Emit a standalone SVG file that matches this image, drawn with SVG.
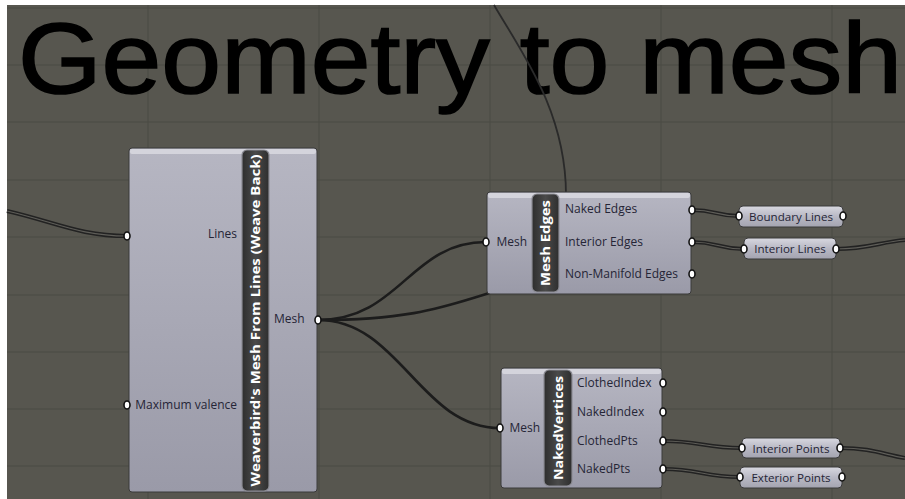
<svg xmlns="http://www.w3.org/2000/svg" width="905" height="499" viewBox="0 0 905 499">
<defs>
<linearGradient id="nodeG" x1="0" y1="0" x2="0" y2="1">
<stop offset="0" stop-color="#b6b6c2"/>
<stop offset="1" stop-color="#9a9aa8"/>
</linearGradient>
<linearGradient id="paramG" x1="0" y1="0" x2="0" y2="1">
<stop offset="0" stop-color="#d8d8e0"/>
<stop offset="0.5" stop-color="#b8b8c4"/>
<stop offset="1" stop-color="#a4a4b0"/>
</linearGradient>
<linearGradient id="barG" x1="0" y1="0" x2="1" y2="0">
<stop offset="0" stop-color="#2e2e2e"/>
<stop offset="0.5" stop-color="#4a4a4a"/>
<stop offset="1" stop-color="#2e2e2e"/>
</linearGradient>
<style>
.grid{stroke:#4b4a45;stroke-width:1}
.title{font-family:"Liberation Sans",Arial,sans-serif;font-size:100px;fill:#000;stroke:#000;stroke-width:1.6}
.node{fill:url(#nodeG);stroke:#3a3a3a;stroke-width:1}
.hl{fill:#d4d4dc}
.bar{fill:url(#barG);stroke:#8c8c94;stroke-width:1.2}
.bt{font-family:"Open Sans","DejaVu Sans",sans-serif;font-weight:bold;font-size:13px;fill:#fff;text-anchor:middle}
.t{font-family:"Open Sans","DejaVu Sans",sans-serif;font-size:12px;fill:#252536}
.p{font-size:11.6px}
.r{text-anchor:end}
.m{text-anchor:middle}
.param{fill:url(#paramG);stroke:#3a3a3a;stroke-width:1}
.port{fill:#fff;stroke:#111;stroke-width:1.6}
.w1{fill:none;stroke:#1c1c1c;stroke-width:2.6}
.w0{fill:none;stroke:#2a2a2a;stroke-width:1.8}
.wo{fill:none;stroke:#222;stroke-width:4.2}
.wi{fill:none;stroke:#5e5d58;stroke-width:1.2}
</style>
</defs>
<rect x="0" y="0" width="905" height="499" fill="#57564f"/>
<g id="grid">
<line class="grid" x1="0" y1="8" x2="905" y2="8"/>
<line class="grid" x1="0" y1="65" x2="905" y2="65"/>
<line class="grid" x1="0" y1="122" x2="905" y2="122"/>
<line class="grid" x1="0" y1="180" x2="905" y2="180"/>
<line class="grid" x1="0" y1="237" x2="905" y2="237"/>
<line class="grid" x1="0" y1="295" x2="905" y2="295"/>
<line class="grid" x1="0" y1="352" x2="905" y2="352"/>
<line class="grid" x1="0" y1="409" x2="905" y2="409"/>
<line class="grid" x1="0" y1="466" x2="905" y2="466"/>
<line class="grid" x1="148" y1="0" x2="148" y2="499"/>
<line class="grid" x1="319" y1="0" x2="319" y2="499"/>
<line class="grid" x1="490" y1="0" x2="490" y2="499"/>
<line class="grid" x1="661" y1="0" x2="661" y2="499"/>
<line class="grid" x1="832" y1="0" x2="832" y2="499"/>
</g>
<rect x="0" y="0" width="905" height="5" fill="#fff"/>
<rect x="0" y="0" width="7" height="499" fill="#fff"/>
<text id="title" class="title" x="18" y="93" textLength="884" lengthAdjust="spacingAndGlyphs">Geometry to mesh</text>
<g id="connectors">
<path class="w0" d="M494 5 C520 50,566 110,566 195"/>
<path class="wo" d="M7 211 C55 222,80 236,127 236"/>
<path class="wi" d="M7 211 C55 222,80 236,127 236"/>
<path class="w1" d="M318 320 C400 320,410 242,486 242"/>
<path class="w1" d="M318 320 C420 320,450 304,500 290"/>
<path class="w1" d="M318 320 C400 320,420 428,500 428"/>
<path class="wo" d="M692 210 C716 210,716 216,739 216"/>
<path class="wi" d="M692 210 C716 210,716 216,739 216"/>
<path class="wo" d="M692 242 C718 242,718 249,744 249"/>
<path class="wi" d="M692 242 C718 242,718 249,744 249"/>
<path class="wo" d="M836 249 C868 249,880 242,905 240"/>
<path class="wi" d="M836 249 C868 249,880 242,905 240"/>
<path class="wo" d="M663 441 C700 441,705 448,742 448"/>
<path class="wi" d="M663 441 C700 441,705 448,742 448"/>
<path class="wo" d="M663 469 C700 469,703 477,740 477"/>
<path class="wi" d="M663 469 C700 469,703 477,740 477"/>
<path class="wo" d="M840 448 C872 448,885 455,905 458"/>
<path class="wi" d="M840 448 C872 448,885 455,905 458"/>
</g>
<g id="weaverbird">
<rect class="node" x="129" y="148" width="188" height="344" rx="3"/>
<rect class="hl" x="130" y="149" width="186" height="5" rx="2"/>
<rect class="bar" x="242" y="150" width="27" height="341" rx="5"/>
<text class="bt" transform="translate(260,320.5) rotate(-90)" textLength="332" lengthAdjust="spacingAndGlyphs">Weaverbird's Mesh From Lines (Weave Back)</text>
<text class="t r" x="237" y="238">Lines</text>
<text class="t r" x="237" y="409">Maximum valence</text>
<text class="t" x="274" y="323">Mesh</text>
<ellipse class="port" cx="127" cy="236" rx="3" ry="4"/>
<ellipse class="port" cx="127" cy="405" rx="3" ry="4"/>
<ellipse class="port" cx="318" cy="320" rx="3" ry="4"/>
</g>
<g id="meshedges">
<rect class="node" x="487" y="192" width="204" height="102" rx="3"/>
<rect class="hl" x="488" y="193" width="202" height="5" rx="2"/>
<rect class="bar" x="532" y="194" width="27" height="98" rx="5"/>
<text class="bt" transform="translate(550,243) rotate(-90)" textLength="86" lengthAdjust="spacingAndGlyphs">Mesh Edges</text>
<text class="t r" x="527" y="246">Mesh</text>
<text class="t" x="565" y="213">Naked Edges</text>
<text class="t" x="565" y="246">Interior Edges</text>
<text class="t" x="565" y="278">Non-Manifold Edges</text>
<ellipse class="port" cx="486" cy="242" rx="3" ry="4"/>
<ellipse class="port" cx="692" cy="210" rx="3" ry="4"/>
<ellipse class="port" cx="692" cy="242" rx="3" ry="4"/>
<ellipse class="port" cx="692" cy="274" rx="3" ry="4"/>
</g>
<g id="nakedvertices">
<rect class="node" x="501" y="368" width="161" height="120" rx="3"/>
<rect class="hl" x="502" y="369" width="159" height="5" rx="2"/>
<rect class="bar" x="544" y="370" width="28" height="116" rx="5"/>
<text class="bt" transform="translate(562.5,428) rotate(-90)" textLength="104" lengthAdjust="spacingAndGlyphs">NakedVertices</text>
<text class="t r" x="540" y="432">Mesh</text>
<text class="t" x="577" y="387">ClothedIndex</text>
<text class="t" x="577" y="416">NakedIndex</text>
<text class="t" x="577" y="445">ClothedPts</text>
<text class="t" x="577" y="473">NakedPts</text>
<ellipse class="port" cx="500" cy="428" rx="3" ry="4"/>
<ellipse class="port" cx="663" cy="383" rx="3" ry="4"/>
<ellipse class="port" cx="663" cy="412" rx="3" ry="4"/>
<ellipse class="port" cx="663" cy="441" rx="3" ry="4"/>
<ellipse class="port" cx="663" cy="469" rx="3" ry="4"/>
</g>
<g id="boundarylines">
<rect class="param" x="739" y="206" width="104" height="21" rx="4"/>
<text class="t p m" x="791" y="220.5">Boundary Lines</text>
<ellipse class="port" cx="739" cy="216" rx="3" ry="4"/>
<ellipse class="port" cx="843" cy="216" rx="3" ry="4"/>
</g>
<g id="interiorlines">
<rect class="param" x="744" y="238" width="92" height="21" rx="4"/>
<text class="t p m" x="790" y="252.5">Interior Lines</text>
<ellipse class="port" cx="744" cy="249" rx="3" ry="4"/>
<ellipse class="port" cx="836" cy="249" rx="3" ry="4"/>
</g>
<g id="interiorpoints">
<rect class="param" x="742" y="438" width="98" height="20" rx="4"/>
<text class="t p m" x="791" y="452.5">Interior Points</text>
<ellipse class="port" cx="742" cy="448" rx="3" ry="4"/>
<ellipse class="port" cx="840" cy="448" rx="3" ry="4"/>
</g>
<g id="exteriorpoints">
<rect class="param" x="740" y="467" width="102" height="21" rx="4"/>
<text class="t p m" x="791" y="481.5">Exterior Points</text>
<ellipse class="port" cx="740" cy="477" rx="3" ry="4"/>
<ellipse class="port" cx="842" cy="477" rx="3" ry="4"/>
</g>
</svg>
